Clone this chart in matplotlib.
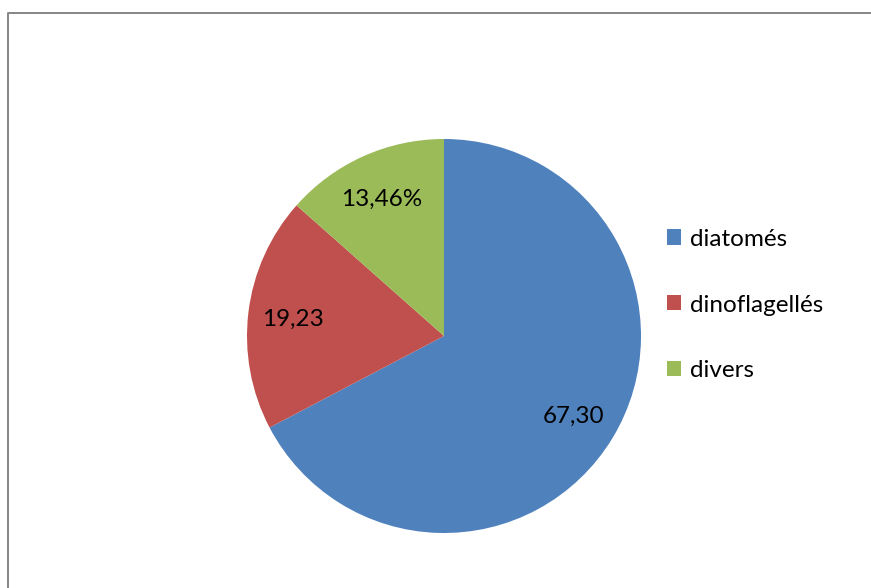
"""
Répartition du phytoplancton (diatomés / dinoflagellés / divers)
Camembert façon Excel.
"""

import matplotlib
matplotlib.use('Agg')
import matplotlib.pyplot as plt
from matplotlib.lines import Line2D

# ============================================================
# DATA
# ============================================================
groups = ['diatomés', 'dinoflagellés', 'divers']
shares = [67.30, 19.23, 13.46]
slice_labels = ['67,30', '19,23', '13,46%']
colors = ['#4F81BD', '#C0504D', '#9BBB59']

plt.rcParams['font.family'] = ['Lato', 'DejaVu Sans']
FS = 17.5

# ============================================================
# CHART
# ============================================================
W, H = 871, 588
fig = plt.figure(figsize=(W / 100, H / 100), dpi=100)
fig.patch.set_facecolor('white')

# pie box: centre ~(444, 336), radius ~197 px
cx, cy, r = 444, 336, 197
ax = fig.add_axes([(cx - r) / W, (H - cy - r) / H, 2 * r / W, 2 * r / H])

wedges, texts = ax.pie(shares, labels=slice_labels, colors=colors,
                       startangle=90, counterclock=False,
                       labeldistance=0.77, radius=1.0,
                       textprops=dict(fontsize=FS, color='black'))
for t in texts:
    t.set_ha('center')
    t.set_va('center_baseline')
ax.set_aspect('equal')
ax.set_xlim(-1, 1)
ax.set_ylim(-1, 1)
ax.axis('off')

# legend on the right
fig.legend(wedges, groups, loc='center left',
           bbox_to_anchor=(667 / W, 1 - 305 / H),
           frameon=False, fontsize=FS, borderpad=0, borderaxespad=0,
           handlelength=0.58, handleheight=0.58, handletextpad=0.35,
           labelspacing=1.85)

# chart-area border (only top and left visible in the crop)
fig.add_artist(Line2D([8 / W, 8 / W, 1.0], [0.0, 1 - 13 / H, 1 - 13 / H],
                      transform=fig.transFigure, color='#868686', linewidth=1.4))

plt.savefig('out.png', dpi=100)
